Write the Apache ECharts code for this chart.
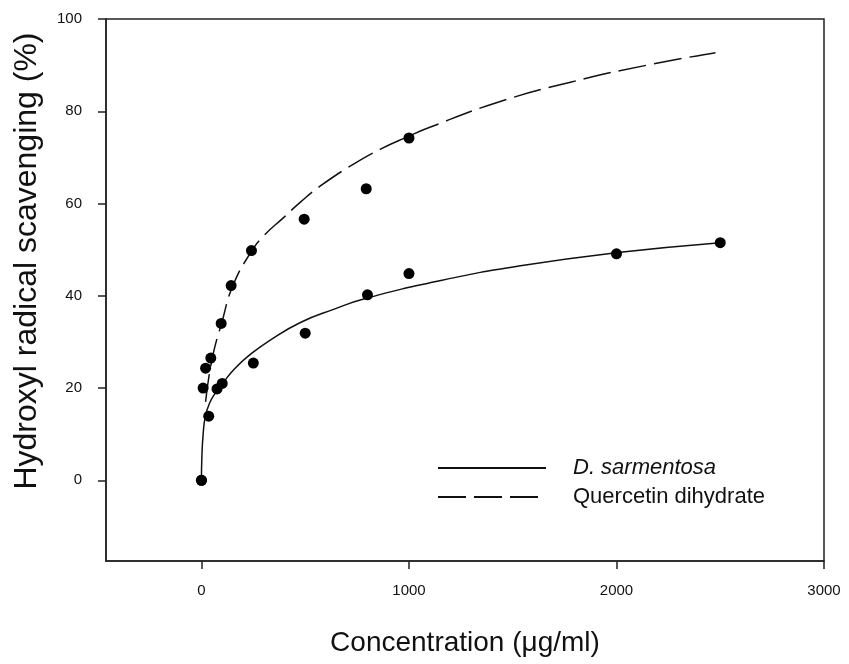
<!DOCTYPE html>
<html>
<head>
<meta charset="utf-8">
<title>Hydroxyl radical scavenging</title>
<script src="https://cdn.jsdelivr.net/npm/echarts@6/dist/echarts.min.js"></script>
<style>
  html, body { margin: 0; padding: 0; background: #fff; }
  #chart { width: 849px; height: 664px; }
</style>
</head>
<body>
<div id="chart"></div>
<script>
// measured points (concentration, % scavenging)
const dsPoints = [[0, 0], [35, 13.9], [75, 19.8], [100, 21], [250, 25.4], [500, 31.9], [800, 40.2], [1000, 44.8], [2000, 49.1], [2500, 51.5]];
const qdPoints = [[0, 0], [8, 20], [20, 24.3], [45, 26.5], [95, 34], [143, 42.2], [241, 49.8], [495, 56.6], [794, 63.2], [1000, 74.2]];

// fitted curves
const dsCurve = [[0, 0], [2, 5], [8, 9.9], [19, 13.9], [40, 16.8], [67, 18.9], [107, 21.3], [160, 24.2], [236, 27.3], [328, 30.3], [477, 34.2], [640, 37.1], [790, 39.4], [1152, 43.3], [1537, 46.5], [1995, 49.3], [2500, 51.5]];
const qdCurve = [[20, 17], [50, 26], [100, 34.5], [150, 42], [236, 49.3], [300, 53], [397, 57], [477, 60.3], [573, 63.8], [735, 68.6], [863, 71.8], [1000, 74.6], [1088, 76.3], [1425, 81.9], [1778, 86.3], [2148, 90], [2477, 92.7]];

const xTicks = [0, 1000, 2000, 3000];
const yTicks = [0, 20, 40, 60, 80, 100];

const seriesNames = ['D. sarmentosa', 'Quercetin dihydrate'];
const yTitle = 'Hydroxyl radical scavenging (%)';

const FONT = "'Liberation Sans', Arial, sans-serif";
const INK = '#111';

const chart = echarts.init(document.getElementById('chart'));

chart.setOption({
  animation: false,
  backgroundColor: '#fff',
  textStyle: { fontFamily: FONT, color: INK },
  grid: {
    left: 106, right: 25, top: 19, bottom: 103,
    show: true, borderColor: '#222', borderWidth: 1.5
  },
  legend: {
    data: seriesNames,
    orient: 'vertical',
    left: 437, top: 457,
    padding: 0,
    itemWidth: 108, itemHeight: 14, itemGap: 7,
    itemStyle: { opacity: 0 },
    formatter: (name) => name === seriesNames[0] ? '{i|' + name + '}' : name,
    textStyle: {
      fontFamily: FONT, fontSize: 22, color: INK,
      padding: [0, 0, 0, 22],
      rich: { i: { fontStyle: 'italic', fontFamily: FONT, fontSize: 22, color: INK } }
    }
  },
  // y title sits above the middle of the axis in the original, so it is placed by hand
  graphic: [{
    type: 'text',
    x: 27, y: 261,
    rotation: Math.PI / 2,
    style: {
      text: yTitle,
      font: "32px 'Liberation Sans', Arial, sans-serif",
      fill: INK,
      align: 'center',
      verticalAlign: 'middle'
    }
  }],
  xAxis: {
    type: 'value',
    min: -460, max: 3000,
    name: 'Concentration (μg/ml)',
    nameLocation: 'middle',
    nameGap: 68,
    nameTextStyle: { fontFamily: FONT, fontSize: 28, color: INK },
    axisLine: { onZero: false, lineStyle: { color: '#222', width: 1.5 } },
    axisTick: { customValues: xTicks, length: 8, lineStyle: { color: '#222', width: 1.5 } },
    axisLabel: { customValues: xTicks, margin: 22, fontSize: 15, color: INK, fontFamily: FONT, formatter: (v) => String(v) },
    splitLine: { show: false }
  },
  yAxis: {
    type: 'value',
    min: -17.5, max: 100,
    axisLine: { onZero: false, lineStyle: { color: '#222', width: 1.5 } },
    axisTick: { customValues: yTicks, length: 8, lineStyle: { color: '#222', width: 1.5 } },
    axisLabel: { customValues: yTicks, margin: 24, fontSize: 15, color: INK, fontFamily: FONT, formatter: (v) => String(v) },
    splitLine: { show: false }
  },
  series: [
    {
      name: seriesNames[0],
      type: 'line',
      data: dsCurve,
      smooth: true,
      symbol: 'none',
      lineStyle: { color: '#111', width: 1.5 },
      itemStyle: { color: '#111' },
      z: 2
    },
    {
      name: seriesNames[1],
      type: 'line',
      data: qdCurve,
      smooth: true,
      symbol: 'none',
      lineStyle: { color: '#111', width: 1.5, type: [28, 8] },
      itemStyle: { color: '#111' },
      z: 2
    },
    {
      name: 'ds points',
      type: 'scatter',
      data: dsPoints,
      symbolSize: 11,
      itemStyle: { color: '#000', opacity: 1 },
      z: 3
    },
    {
      name: 'qd points',
      type: 'scatter',
      data: qdPoints,
      symbolSize: 11,
      itemStyle: { color: '#000', opacity: 1 },
      z: 3
    }
  ]
});
</script>
</body>
</html>
